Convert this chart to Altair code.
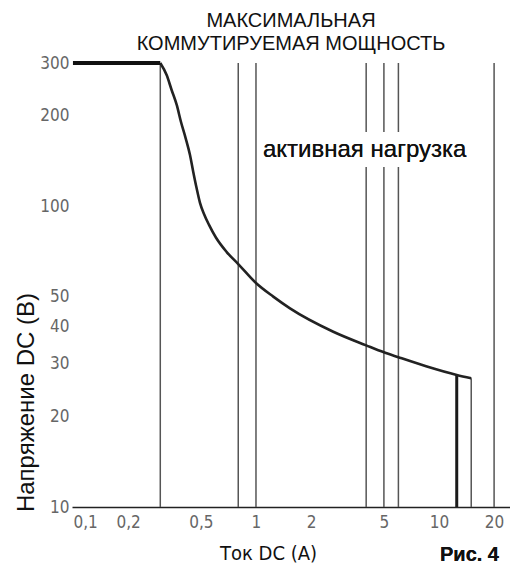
import altair as alt
import pandas as pd

# ---- data ----
curve_current = [0.3, 0.325, 0.346, 0.369, 0.389, 0.413, 0.436, 0.454, 0.474, 0.494,
                 0.52, 0.554, 0.604, 0.692, 0.80, 1.0, 1.243, 1.534, 2.645,
                 4, 5, 6, 8.5, 12.5, 15]
curve_voltage = [300, 273.6, 244, 217.5, 191.3, 168.5, 148.3, 130.5, 114.9, 103,
                 94.4, 86.8, 78.8, 70.5, 64.3, 55.6, 50.1, 45.8, 38.3,
                 34.5, 32.7, 31.5, 29.4, 27.5, 26.8]

flat_current = [0.1, 0.3]
flat_voltage = [300, 300]

grid_current = [0.3, 0.8, 1, 4, 5, 6, 20]
grid_top = [300, 300, 300, 300, 300, 300, 300]

drop_thick_current = [12.5]
drop_thick_top = [27.5]
drop_thin_current = [15]
drop_thin_top = [26.8]

x_ticks = [0.1, 0.2, 0.5, 1, 2, 5, 10, 20]
y_ticks = [10, 20, 30, 40, 50, 100, 200, 300]
y_min = 10

NARROW = "Liberation Sans Narrow, DejaVu Sans Condensed, Roboto Condensed, Liberation Sans, sans-serif"
SANS = "Liberation Sans, Arial, sans-serif"

xscale = alt.Scale(type="log", domain=[0.0988, 24.43], nice=False)
yscale = alt.Scale(type="log", domain=[10, 300], nice=False)

xaxis = alt.Axis(values=x_ticks, format="~g", labelExpr="replace(datum.label, '.', ',')",
                 title="Ток DC (A)", grid=False, ticks=False, domain=True,
                 domainColor="#222", domainWidth=1.6, labelColor="#666",
                 labelFont=NARROW, labelFontSize=17, labelPadding=7,
                 titleFont=NARROW, titleFontSize=20, titleFontWeight="normal",
                 titleColor="#111", titleX=196, titleY=46, titleAlign="center",
                 titleBaseline="middle")
yaxis = alt.Axis(values=y_ticks, format="~g", title="Напряжение DC (В)", grid=False,
                 ticks=False, domain=False, labelColor="#666", labelFont=NARROW,
                 labelFontSize=17, labelPadding=3,
                 titleFont=SANS, titleFontSize=24, titleFontWeight="normal",
                 titleColor="#111", titleX=-46, titleY=339, titleAlign="center",
                 titleBaseline="middle", titleAngle=270)


def X(field):
    return alt.X(f"{field}:Q", scale=xscale, axis=xaxis)


def Y(field):
    return alt.Y(f"{field}:Q", scale=yscale, axis=yaxis)


grid_df = pd.DataFrame({"current": grid_current, "top": grid_top, "bottom": y_min})
thick_df = pd.DataFrame({"current": drop_thick_current, "top": drop_thick_top, "bottom": y_min})
thin_df = pd.DataFrame({"current": drop_thin_current, "top": drop_thin_top, "bottom": y_min})
curve_df = pd.DataFrame({"current": curve_current, "voltage": curve_voltage})
flat_df = pd.DataFrame({"current": flat_current, "voltage": flat_voltage})

grid = alt.Chart(grid_df).mark_rule(color="#555", strokeWidth=1.5).encode(
    x=X("current"), y=Y("bottom"), y2="top:Q")
thick = alt.Chart(thick_df).mark_rule(color="#1a1a1a", strokeWidth=3).encode(
    x=X("current"), y=Y("bottom"), y2="top:Q")
thin = alt.Chart(thin_df).mark_rule(color="#555", strokeWidth=1.5).encode(
    x=X("current"), y=Y("bottom"), y2="top:Q")

mask = alt.Chart(flat_df).mark_rect(color="white").encode(
    x=alt.value(189), x2=alt.value(401), y=alt.value(69), y2=alt.value(104))
label = alt.Chart(flat_df).mark_text(
    text="активная нагрузка", font=SANS, fontSize=24, align="left",
    baseline="middle", color="#111").encode(x=alt.value(191), y=alt.value(87))

curve = alt.Chart(curve_df).mark_line(color="#222", strokeWidth=2.6,
                                      interpolate="monotone").encode(
    x=X("current"), y=Y("voltage"))
flat = alt.Chart(flat_df).mark_line(color="#111", strokeWidth=4).encode(
    x=X("current"), y=Y("voltage"))

fig = alt.Chart(flat_df).mark_text(
    text="Рис. 4", font=SANS, fontSize=20, fontWeight="bold", align="left",
    baseline="top", color="#111").encode(x=alt.value(368), y=alt.value(482))

chart = alt.layer(grid, thin, thick, mask, label, curve, flat, fig).properties(
    width=438, height=444,
    padding={"left": 64, "top": 55, "right": 0, "bottom": 57},
    autosize=alt.AutoSizeParams(type="none"),
    title=alt.TitleParams(["МАКСИМАЛЬНАЯ", "КОММУТИРУЕМАЯ МОЩНОСТЬ"], anchor="middle",
                          font=SANS, fontSize=20, fontWeight="normal", color="#111",
                          lineHeight=23, offset=0),
).configure_view(stroke=None)

chart.save("out.html", embed_options={"renderer": "svg", "actions": False})
